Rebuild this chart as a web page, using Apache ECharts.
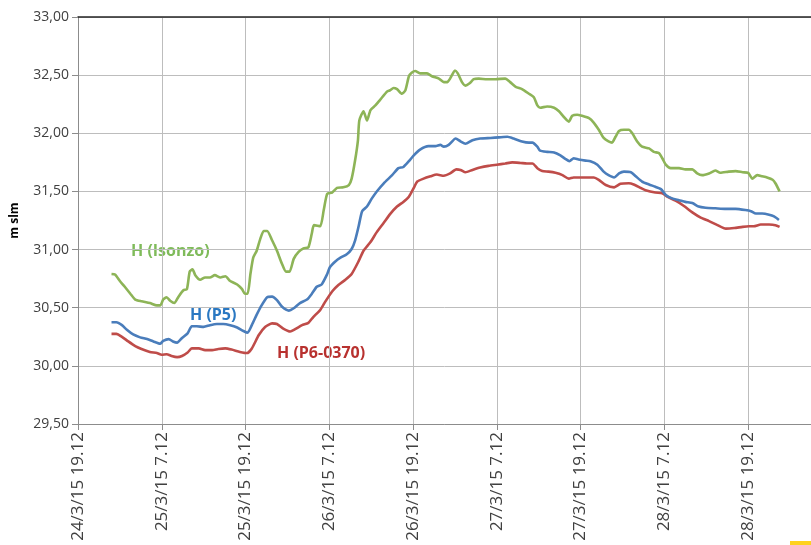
<!DOCTYPE html>
<html>
<head>
<meta charset="utf-8">
<script src="https://cdn.jsdelivr.net/npm/echarts@6/dist/echarts.min.js"></script>
<style>
  html, body { margin: 0; padding: 0; background: #fff; }
  #chart { width: 811px; height: 545px; }
</style>
</head>
<body>
<div id="chart"></div>
<script>
// x = hours since 24/3/15 19.12
var tickLabels = ["24/3/15 19.12", "25/3/15 7.12", "25/3/15 19.12", "26/3/15 7.12", "26/3/15 19.12",
  "27/3/15 7.12", "27/3/15 19.12", "28/3/15 7.12", "28/3/15 19.12"];

var isonzoT = [4.8,5.3,6.0,6.7,7.5,8.2,9.1,10.3,11.3,11.8, 12.2,12.7,13.2,13.8,14.4,15.1,15.6,16.0,16.4,16.8,
  17.5,18.2,18.9,19.6,20.4,21.1,21.8,22.8,23.5,23.9, 24.3,24.7,25.1,25.6,26.1,26.6,27.1,27.8,28.5,29.2,
  29.8,30.3,30.9,31.6,32.3,33.0,33.5,33.8,34.7,35.2, 35.7,36.4,37.1,38.0,38.8,39.2,39.7,40.1,40.3,40.9,
  41.4,41.9,42.6,43.3,44.3,44.7,45.2,45.7,46.4,46.9, 47.4,47.8,48.3,49.0,50.0,50.7,51.7,52.4,52.9,53.3,
  54.0,54.4,55.0,55.5,56.1,56.7,57.4,58.6,59.8,61.2, 61.9,62.7,63.6,64.6,65.3,65.8,66.2,67.2,68.2,68.9,
  69.6,70.3,70.8,71.5,72.2,73.2,73.9,74.6,75.3,76.0, 76.5,77.0,77.5,78.2,78.9,79.4,80.1,80.8,81.8,82.5,
  83.2,83.7,84.2,84.9,86.1,87.0,88.0,88.7,89.4,90.4, 91.3,92.0,93.2,94.2,95.2,96.0,96.6,97.3,98.0,98.7,
  99.5,99.9,100.5];
var isonzoH = [30.79,30.785,30.73,30.68,30.62,30.57,30.555,30.54,30.52,30.52, 30.57,30.59,30.56,30.54,30.595,30.65,30.66,30.81,30.83,30.78,
  30.74,30.76,30.76,30.78,30.76,30.77,30.73,30.70,30.66,30.62, 30.62,30.79,30.93,30.99,31.09,31.16,31.16,31.08,30.99,30.88,
  30.81,30.81,30.92,30.98,31.01,31.02,31.14,31.21,31.20,31.34, 31.48,31.49,31.53,31.535,31.555,31.61,31.77,31.94,32.11,32.19,
  32.11,32.20,32.24,32.29,32.36,32.37,32.39,32.38,32.34,32.37, 32.49,32.52,32.535,32.515,32.515,32.49,32.47,32.44,32.44,32.47,
  32.54,32.515,32.44,32.41,32.43,32.465,32.47,32.465,32.465,32.47, 32.44,32.40,32.38,32.34,32.31,32.24,32.22,32.23,32.22,32.19,
  32.14,32.10,32.15,32.16,32.15,32.13,32.09,32.03,31.96,31.93, 31.92,31.97,32.02,32.03,32.03,32.00,31.93,31.885,31.87,31.84,
  31.83,31.785,31.73,31.70,31.70,31.69,31.69,31.655,31.64,31.655, 31.68,31.66,31.67,31.675,31.665,31.66,31.61,31.64,31.63,31.62,
  31.60,31.57,31.50];

var p5T = [4.8,5.5,6.3,7.0,7.9,8.9,9.9,10.8,11.8,12.2, 13.0,13.6,14.2,14.9,15.7,16.3,17.0,18.0,18.9,19.9,
  20.8,21.8,22.8,23.7,24.3,24.9,25.6,26.3,27.1,27.8, 28.5,29.2,30.2,30.9,31.8,32.8,33.5,34.2,34.9,35.7,
  36.1,36.9,37.6,38.5,39.2,39.7,40.2,40.7,41.4,42.1, 42.8,43.8,45.0,45.9,46.6,47.4,48.1,49.0,50.2,51.2,
  51.9,52.4,53.1,54.1,54.8,55.5,56.5,57.6,59.1,60.3, 61.5,62.4,63.6,64.6,65.1,65.8,66.2,67.2,68.2,69.1,
  69.8,70.4,71.0,71.7,72.7,73.4,74.4,75.3,76.0,76.8, 77.5,78.2,79.2,79.9,80.8,81.8,82.7,83.5,84.2,85.1,
  86.1,87.0,88.0,88.9,89.9,91.3,92.8,94.2,95.6,96.4, 97.1,98.0,99.0,99.7,100.4];
var p5H = [30.375,30.375,30.35,30.31,30.27,30.245,30.23,30.21,30.19,30.215, 30.23,30.21,30.20,30.24,30.28,30.34,30.34,30.335,30.35,30.36,
  30.36,30.35,30.33,30.30,30.285,30.35,30.44,30.52,30.59,30.595, 30.565,30.51,30.475,30.495,30.54,30.57,30.62,30.68,30.70,30.79,
  30.85,30.90,30.93,30.96,31.005,31.08,31.20,31.33,31.37,31.44, 31.50,31.57,31.64,31.70,31.71,31.76,31.81,31.86,31.89,31.89,
  31.90,31.885,31.90,31.955,31.93,31.91,31.94,31.955,31.96,31.965, 31.97,31.955,31.93,31.92,31.92,31.885,31.85,31.84,31.835,31.81,
  31.78,31.76,31.785,31.775,31.765,31.76,31.73,31.67,31.64,31.62, 31.655,31.67,31.665,31.63,31.585,31.56,31.54,31.52,31.47,31.44,
  31.425,31.41,31.40,31.37,31.36,31.355,31.35,31.35,31.34,31.33, 31.31,31.31,31.30,31.285,31.255];

var p6T = [4.8,5.5,6.3,7.2,8.2,9.1,10.3,11.3,12.0,12.7, 13.4,14.2,14.9,15.7,16.3,17.3,18.2,19.2,20.1,21.1,
  22.0,23.2,24.2,24.9,25.9,26.8,27.8,28.5,29.4,30.4, 31.1,32.1,33.0,33.7,34.7,35.4,36.4,37.3,38.3,39.2,
  40.2,40.9,41.9,42.8,43.8,44.7,45.7,46.6,47.4,48.1, 48.6,49.5,50.5,51.4,52.4,53.3,54.2,54.8,55.5,56.5,
  57.6,58.8,60.0,61.2,62.2,63.4,64.3,65.1,65.8,66.5, 67.4,68.4,69.4,70.3,71.0,72.5,73.9,74.6,75.6,76.8,
  77.7,78.9,79.6,80.6,81.3,82.7,83.7,84.4,85.6,86.8, 88.0,89.2,90.4,91.6,92.8,94.0,95.2,96.1,96.8,97.8,
  99.0,99.9,100.5];
var p6H = [30.275,30.275,30.25,30.21,30.17,30.145,30.12,30.11,30.095,30.10, 30.085,30.075,30.085,30.115,30.15,30.15,30.135,30.135,30.145,30.15,
  30.14,30.12,30.11,30.15,30.265,30.335,30.365,30.36,30.32,30.295, 30.315,30.35,30.37,30.42,30.48,30.55,30.64,30.695,30.74,30.79,
  30.90,30.99,31.065,31.15,31.23,31.305,31.37,31.41,31.455,31.53, 31.585,31.61,31.63,31.645,31.635,31.655,31.69,31.685,31.665,31.685,
  31.705,31.72,31.73,31.74,31.75,31.745,31.74,31.74,31.70,31.675, 31.67,31.66,31.64,31.61,31.62,31.62,31.62,31.60,31.555,31.535,
  31.565,31.57,31.56,31.53,31.51,31.49,31.485,31.455,31.42,31.375, 31.32,31.275,31.245,31.21,31.18,31.185,31.195,31.20,31.20,31.215,
  31.215,31.21,31.195];

function zip(t, v) {
  return t.map(function (x, i) { return [x, v[i]]; });
}

var font = "'Open Sans', 'Liberation Sans', sans-serif";
var chart = echarts.init(document.getElementById("chart"), null, { renderer: "canvas" });

var option = {
  animation: false,
  backgroundColor: "#fff",
  grid: { left: 78, right: 0, top: 17, bottom: 121 },
  xAxis: [
    {
      type: "value",
      min: 0,
      max: 105,
      interval: 12,
      axisLine: { lineStyle: { color: "#8c8c8c", width: 1 } },
      axisTick: { show: true, length: 6, lineStyle: { color: "#8c8c8c" } },
      splitLine: { show: true, lineStyle: { color: "#bdbdbd", width: 1 } },
      axisLabel: {
        rotate: 90,
        margin: 8,
        fontSize: 17,
        fontFamily: font,
        color: "#404040",
        showMaxLabel: false,
        formatter: function (v) {
          return v % 12 === 0 ? (tickLabels[v / 12] || "") : "";
        }
      }
    },
    {
      type: "value",
      position: "top",
      min: 0,
      max: 105,
      axisLine: { show: true, lineStyle: { color: "#262626", width: 1.5 } },
      axisTick: { show: false },
      axisLabel: { show: false },
      splitLine: { show: false }
    }
  ],
  yAxis: {
    type: "value",
    min: 29.5,
    max: 33,
    interval: 0.5,
    name: "m slm",
    nameLocation: "middle",
    nameGap: 57,
    nameTextStyle: { fontSize: 12, fontWeight: "bold", fontFamily: font, color: "#000" },
    axisLine: { show: true, lineStyle: { color: "#8c8c8c" } },
    axisTick: { show: true, length: 6, lineStyle: { color: "#8c8c8c" } },
    splitLine: { lineStyle: { color: "#bdbdbd", width: 1 } },
    axisLabel: {
      fontSize: 14,
      fontFamily: font,
      color: "#404040",
      margin: 9,
      formatter: function (v) { return v.toFixed(2).replace(".", ","); }
    }
  },
  series: [
    {
      name: "H (Isonzo)",
      type: "line",
      data: zip(isonzoT, isonzoH),
      showSymbol: false,
      smooth: 0.2,
      lineStyle: { color: "#8db457", width: 2.6 }
    },
    {
      name: "H (P6-0370)",
      type: "line",
      data: zip(p6T, p6H),
      showSymbol: false,
      smooth: 0.2,
      lineStyle: { color: "#bf4c49", width: 2.6 }
    },
    {
      name: "H (P5)",
      type: "line",
      data: zip(p5T, p5H),
      showSymbol: false,
      smooth: 0.2,
      lineStyle: { color: "#4a7dbb", width: 2.6 }
    }
  ],
  graphic: [
    { type: "text", left: 131, top: 243, style: { text: "H (Isonzo)", font: "bold 16px " + font, fill: "#7fbb5a" } },
    { type: "text", left: 190, top: 307, style: { text: "H (P5)", font: "bold 16px " + font, fill: "#2a78c2" } },
    { type: "text", left: 277, top: 345, style: { text: "H (P6-0370)", font: "bold 16px " + font, fill: "#b8312f" } },
    { type: "rect", left: 790, top: 541, shape: { width: 21, height: 4 }, style: { fill: "#ffd21f" } }
  ]
};

chart.setOption(option);
</script>
</body>
</html>
